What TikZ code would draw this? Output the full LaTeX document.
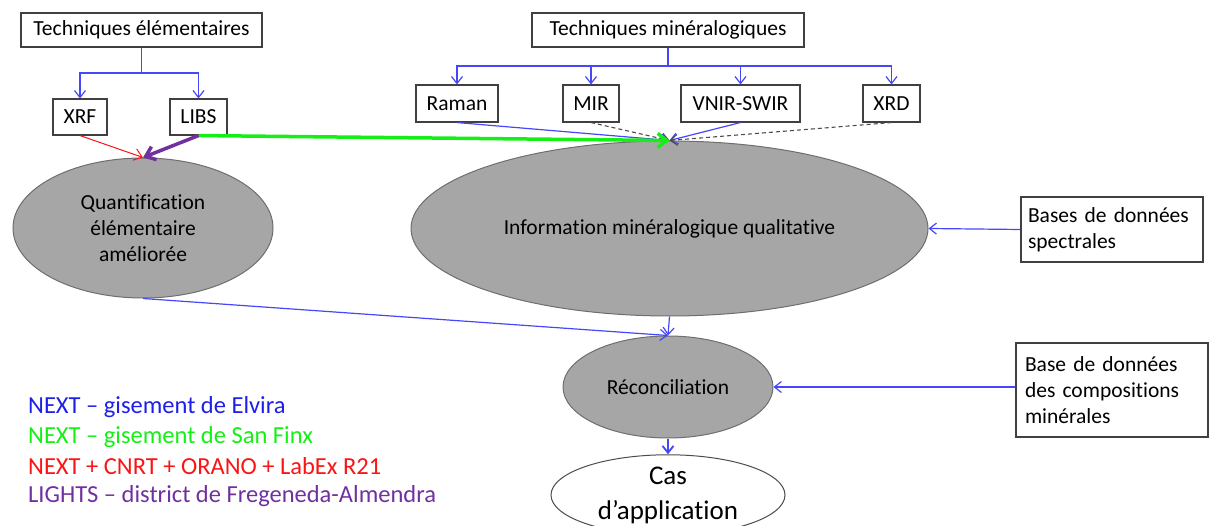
\documentclass[tikz,border=0pt]{standalone}
\usepackage{fontspec}
\setmainfont[Ligatures={TeX,NoCommon}]{Carlito}
\usetikzlibrary{arrows.meta,shapes.geometric}
\definecolor{lblue}{RGB}{70,70,250}
\definecolor{tblue}{RGB}{30,30,235}
\definecolor{lgreen}{RGB}{20,240,20}
\definecolor{lred}{RGB}{250,20,20}
\definecolor{lpurple}{RGB}{112,48,160}
\definecolor{efill}{RGB}{166,166,166}
\definecolor{eline}{RGB}{110,110,110}
\begin{document}
\begin{tikzpicture}[x=1pt,y=-1pt,
 box/.style={draw=black!75,line width=1.1pt,fill=white,inner sep=0pt,font=\fontsize{21.5}{26}\selectfont},
 gell/.style={ellipse,draw=eline,line width=1pt,fill=efill,inner sep=0pt,font=\fontsize{21.5}{26}\selectfont,align=center},
 bline/.style={draw=lblue,line width=1.2pt},
 conn/.style={draw=lblue,line width=1.2pt,-{Straight Barb[length=7pt,width=11pt]}},
 dconn/.style={draw=black!70,line width=1.1pt,dashed,dash pattern=on 4pt off 3pt,-{Straight Barb[length=7pt,width=11pt]}},
 legend/.style={anchor=west,inner sep=0pt,font=\fontsize{24.5}{29}\selectfont},
]
\useasboundingbox (0,0) rectangle (1210,526);

% boxes
\node[box,minimum width=241pt,minimum height=34pt] (te) at (141.5,30) {Techniques élémentaires};
\node[box,minimum width=54pt,minimum height=36pt] (xrf) at (80,117) {XRF};
\node[box,minimum width=57pt,minimum height=36pt] (libs) at (198.5,117) {LIBS};
\node[box,minimum width=272pt,minimum height=34pt] (tm) at (668,30) {Techniques minéralogiques};
\node[box,minimum width=82pt,minimum height=37pt] (raman) at (457,103.5) {Raman};
\node[box,minimum width=56pt,minimum height=37pt] (mir) at (591,103.5) {MIR};
\node[box,minimum width=119pt,minimum height=37pt] (vnir) at (740.5,103.5) {VNIR-SWIR};
\node[box,minimum width=57pt,minimum height=37pt] (xrd) at (891.5,103.5) {XRD};

% ellipses
\node[gell,minimum width=260pt,minimum height=140pt] (quant) at (143,228) {Quantification\\élémentaire\\améliorée};
\node[gell,minimum width=517pt,minimum height=175pt] (info) at (669.5,228.5) {Information minéralogique qualitative};
\node[gell,minimum width=210pt,minimum height=102pt] (rec) at (668,387) {Réconciliation};
\node[ellipse,draw=black!70,line width=1pt,fill=white,inner sep=0pt,align=center,
      font=\fontsize{27}{35}\selectfont,minimum width=234pt,minimum height=80pt] (cas) at (668,495) {Cas\\d’application};

% side boxes
\node[box,minimum width=182pt,minimum height=65pt,align=left,text width=168pt] (bds) at (1112,229.5) {Bases de données\\spectrales};
\node[box,minimum width=192pt,minimum height=94pt,align=left,text width=174pt] (bdc) at (1112,390) {Base de données\\des compositions\\minérales};

% tree connectors
\coordinate (tej) at (141.5,73);
\draw[bline] (te.south) -- (tej);
\draw[conn] (tej) -| (xrf.north);
\draw[conn] (tej) -| (libs.north);
\coordinate (tmj) at (668,66);
\draw[bline] (tm.south) -- (tmj);
\draw[conn] (tmj) -| (raman.north);
\draw[conn] (tmj) -| (mir.north);
\draw[conn] (tmj) -| (vnir.north);
\draw[conn] (tmj) -| (xrd.north);

% converging connectors
\draw[lblue,line width=1.2pt,-{Straight Barb[length=7pt,width=11pt]}] (raman.south) -- (info.north);
\draw[dconn] (mir.south) -- (info.north);
\draw[lblue,line width=1.2pt,-{Straight Barb[length=7pt,width=11pt]}] (vnir.south) -- (info.north);
\draw[dconn] (xrd.south) -- (info.north);

\draw[lred,line width=1pt,-{Straight Barb[length=8pt,width=12pt]}] (xrf.south) -- (quant.north);
\draw[lgreen,line width=3.5pt,-{Straight Barb[length=9pt,width=14pt]}] (libs.south) -- (info.north);
\draw[lpurple,line width=3.5pt,-{Straight Barb[length=9pt,width=14pt]}] (libs.south) -- (quant.north);

% lower connectors
\draw[conn] (bds.west) -- (info.east);
\draw[conn] (quant.south) -- (rec.north);
\draw[conn] (info.south) -- (rec.north);
\draw[conn] (rec.east -| bdc.west) -- (rec.east);
\draw[lblue,line width=1.8pt,-{Straight Barb[length=7pt,width=11pt]}] (rec.south) -- (cas.north);

% legend
\node[legend,text=tblue] (l1) at (28,407) {NEXT – gisement de Elvira};
\node[legend,text=lgreen] (l2) at (28,437) {NEXT – gisement de San Finx};
\node[legend,text=lred] (l3) at (28,466) {NEXT + CNRT + ORANO + LabEx R21};
\node[legend,text=lpurple] (l4) at (28,496) {LIGHTS – district de Fregeneda-Almendra};
\end{tikzpicture}
\end{document}
